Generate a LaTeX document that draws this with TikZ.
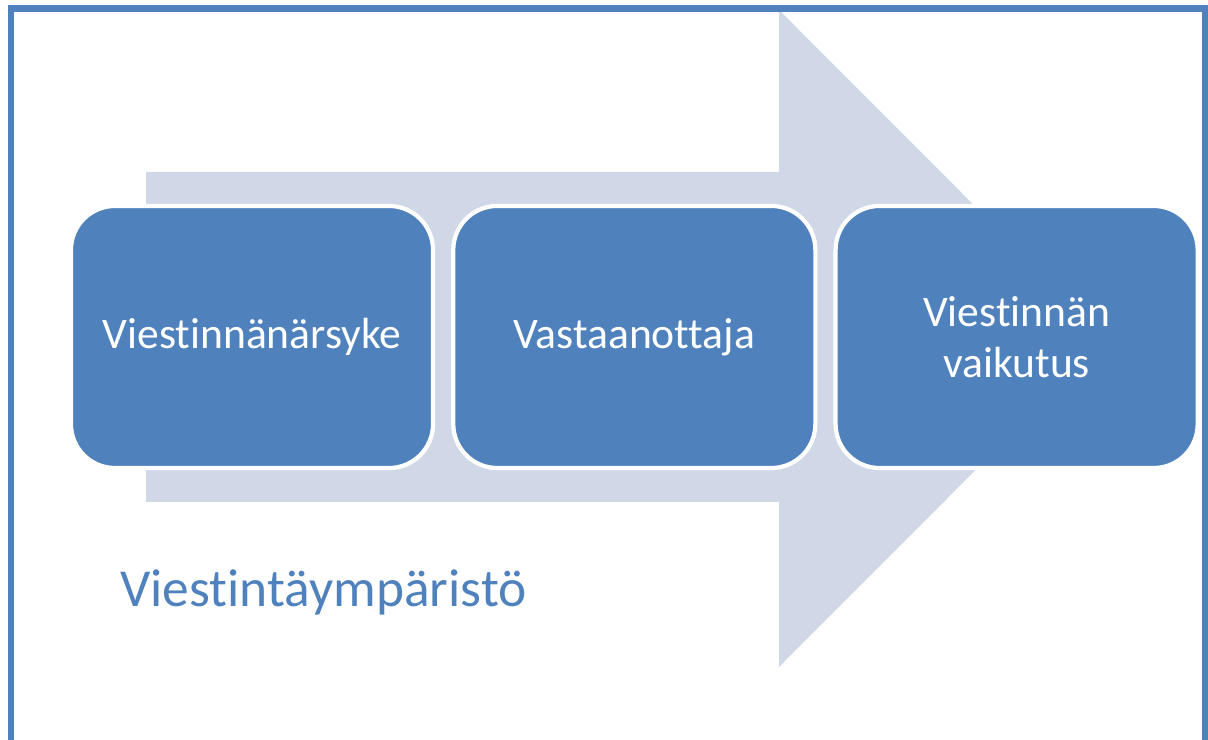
\documentclass[tikz,border=0pt]{standalone}
\usepackage{fontspec}
\setmainfont{Carlito}[Ligatures=NoCommon]
\usepackage{tikz}
\usetikzlibrary{positioning}
\definecolor{officeblue}{RGB}{79,129,189}
\definecolor{arrowgrey}{RGB}{208,216,232}

\begin{document}
\begin{tikzpicture}[x=0.025cm, y=0.025cm,
    stage/.style={draw=white, line width=3pt, rounded corners=1.1cm, fill=officeblue, minimum width=9.05cm, minimum height=6.55cm, text width=8.4cm, align=center, text=white, font=\fontsize{31}{36}\selectfont},
    flow/.style={fill=arrowgrey},
    frame/.style={draw=officeblue, line width=4.3pt}
]
\useasboundingbox (0,0) rectangle (1208,740);
% background arrow
\fill[flow] (146,238) -- (779,238) -- (779,73) -- (1107,401.5) -- (779,730) -- (779,568) -- (146,568) -- cycle;
% frame, open at the bottom
\draw[frame] (11,-10) -- (11,731.5) -- (1205,731.5) -- (1205,-10);
\node[stage] (stimulus) at (252,403) {Viestinnänärsyke};
\node[stage, right=0.4cm of stimulus] (receiver) {Vastaanottaja};
\node[stage, right=0.4cm of receiver] (effect) {Viestinnän\\vaikutus};
\node[anchor=base west, text=officeblue, font=\fontsize{38}{46}\selectfont, inner sep=0pt] (environment) at (120,133) {Viestintäympäristö};
\end{tikzpicture}
\end{document}
